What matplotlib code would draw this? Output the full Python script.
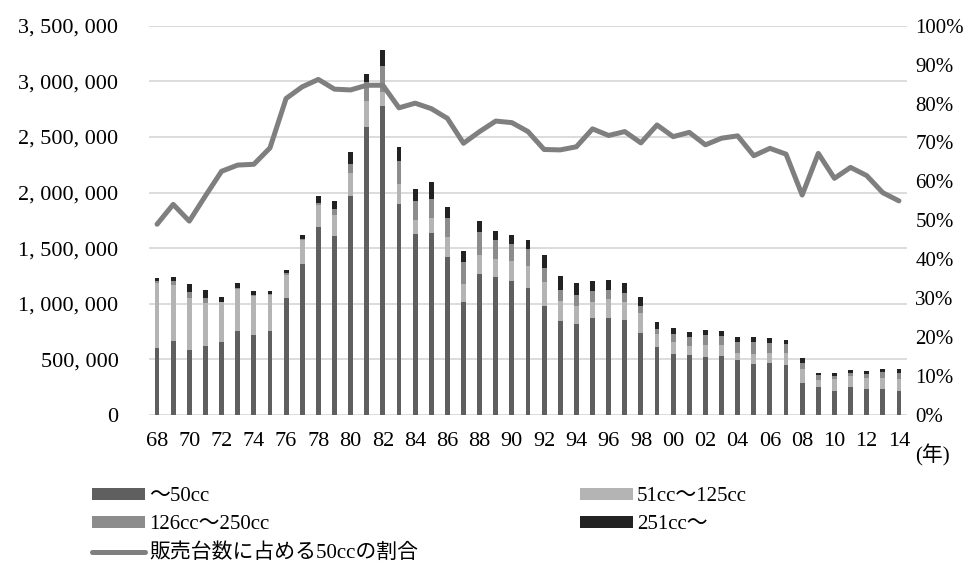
import matplotlib.pyplot as plt
import numpy as np
from matplotlib.ticker import FuncFormatter

# years 1968-2014 (two-digit labels)
years = [f"{y % 100:02d}" for y in range(1968, 2015)]

# sales by displacement class (thousand units)
cc_under50 = [602, 665, 585, 623, 656, 755, 717, 755,
              1055, 1358, 1694, 1610, 1969, 2593, 2779,
              1900, 1628, 1640, 1424, 1019, 1271, 1241, 1205,
              1145, 983, 845, 818, 875, 872, 854, 737,
              614, 551, 540, 524, 531, 492, 461, 470,
              450, 291, 252, 219, 252, 237, 234, 219]
cc_51_125 = [588, 504, 465, 387, 357, 375, 353, 324,
             204, 216, 195, 189, 210, 234, 129,
             177, 126, 134, 179, 159, 168, 162, 180,
             195, 213, 180, 165, 144, 171, 165, 180,
             112, 105, 80, 105, 98, 66, 90, 88,
             105, 123, 63, 102, 96, 98, 101, 105]
cc_126_250 = [18, 36, 59, 42, 7, 9, 9, 9,
              21, 9, 20, 54, 81, 170, 231,
              207, 173, 171, 166, 198, 207, 174, 153,
              153, 126, 99, 93, 96, 84, 81, 66,
              45, 72, 79, 90, 84, 98, 105, 87,
              83, 56, 42, 33, 32, 36, 52, 51]
cc_over251 = [24, 36, 69, 69, 44, 45, 39, 24,
              24, 39, 63, 74, 102, 67, 143,
              129, 108, 148, 104, 96, 101, 78, 78,
              81, 117, 123, 114, 90, 87, 84, 75,
              63, 52, 47, 45, 39, 43, 45, 50,
              39, 45, 18, 21, 25, 25, 27, 39]

# share of 50cc in total sales (%)
share_50cc = [49.0, 54.1, 49.8, 56.3, 62.6, 64.2, 64.4, 68.6,
              81.3, 84.3, 86.2, 83.7, 83.5, 84.7, 84.7,
              78.9, 80.1, 78.7, 76.2, 69.8, 72.8, 75.5, 75.1,
              72.8, 68.2, 68.1, 68.9, 73.5, 71.8, 72.8, 69.9,
              74.5, 71.5, 72.6, 69.4, 71.1, 71.7, 66.6, 68.5,
              67.0, 56.5, 67.2, 60.8, 63.6, 61.5, 57.1, 55.0]

labels = ["～50cc", "51cc～125cc", "126cc～250cc", "251cc～", "販売台数に占める50ccの割合"]
colors = ["#5f5f5f", "#b4b4b4", "#8c8c8c", "#222222"]
line_color = "#7f7f7f"

plt.rcParams['font.family'] = ['Liberation Serif', 'Noto Sans CJK JP']
fs = 15

fig = plt.figure(figsize=(9.75, 5.62), dpi=100)
ax = fig.add_axes([149 / 975, 1 - 415 / 562, 758 / 975, 389.3 / 562])

x = np.arange(len(years))
series = [cc_under50, cc_51_125, cc_126_250, cc_over251]
bottom = np.zeros(len(years))
bars = []
for vals, c, lab in zip(series, colors, labels[:4]):
    v = np.array(vals) * 1000
    b = ax.bar(x, v, width=0.3, bottom=bottom, color=c, label=lab, zorder=2)
    bars.append(b)
    bottom += v

ax.set_ylim(0, 3500000)
ax.set_yticks(np.arange(0, 3500001, 500000))
ax.yaxis.set_major_formatter(FuncFormatter(lambda v, p: f"{int(v):,}".replace(",", ", ")))
ax.grid(axis='y', color='#d9d9d9', linewidth=1.3, zorder=0)
ax.set_axisbelow(True)
ax.set_xlim(-0.5, len(years) - 0.5)
ax.set_xticks(x[::2])
ax.set_xticklabels(years[::2])
ax.tick_params(axis='x', length=0, pad=12, labelsize=16)
ax.tick_params(axis='y', length=0, pad=22, labelsize=16)
for s in ax.spines.values():
    s.set_visible(False)

ax2 = ax.twinx()
line, = ax2.plot(x, share_50cc, color=line_color, linewidth=3.6,
                 solid_joinstyle='round', solid_capstyle='round', label=labels[4])
ax2.set_ylim(0, 100)
ax2.set_yticks(np.arange(0, 101, 10))
ax2.yaxis.set_major_formatter(FuncFormatter(lambda v, p: f"{int(v)}%"))
ax2.tick_params(axis='y', length=0, pad=6, labelsize=fs)
for s in ax2.spines.values():
    s.set_visible(False)

fig.text(915 / 975, 1 - 455 / 562, "(年)", fontsize=fs, va='center', ha='left')

handles = [bars[0], bars[2], line, bars[1], bars[3]]
leg_labels = [labels[0], labels[2], labels[4], labels[1], labels[3]]
fig.legend(handles, leg_labels, loc='upper left', bbox_to_anchor=(92 / 975, 1 - 487 / 562),
           ncol=2, frameon=False, fontsize=fs, handlelength=2.55, handleheight=0.5,
           handletextpad=0.2, labelspacing=0.45, columnspacing=7.75, borderpad=0,
           borderaxespad=0)

fig.savefig("out.png", dpi=100)
